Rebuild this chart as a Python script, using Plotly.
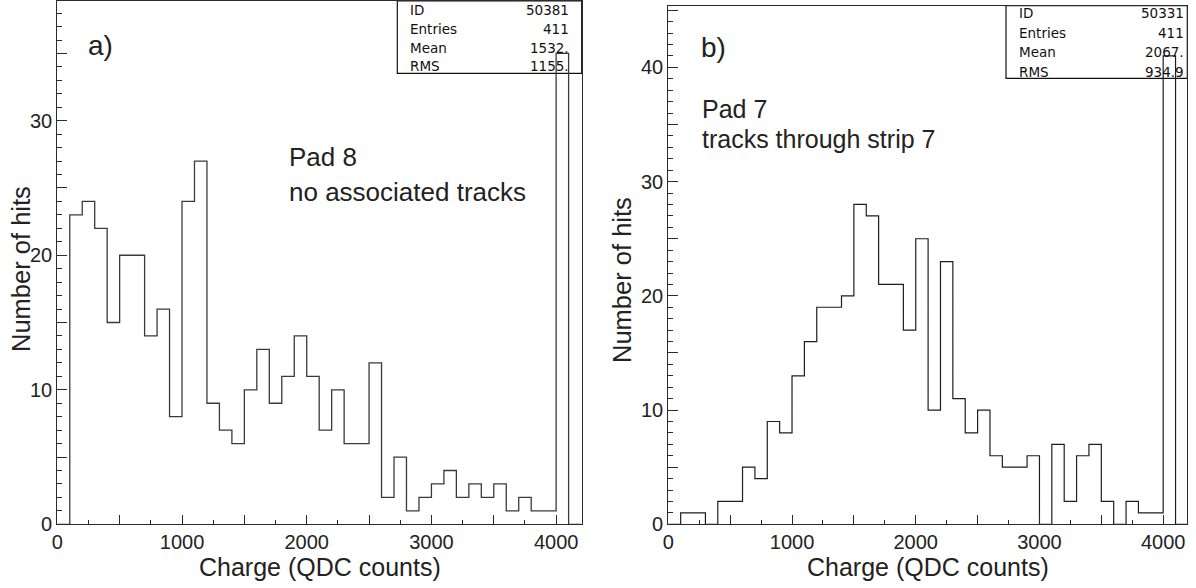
import plotly.graph_objects as go

# ---------------- data ----------------
BIN_WIDTH = 100  # QDC counts per bin
left_counts = [0, 23, 24, 22, 15, 20, 20, 14, 16, 8,
               24, 27, 9, 7, 6, 10, 13, 9, 11, 14,
               11, 7, 10, 6, 6, 12, 2, 5, 1, 2,
               3, 4, 2, 3, 2, 3, 1, 2, 1, 1,
               35, 0]
right_counts = [0, 1, 1, 0, 2, 2, 5, 4, 9, 8,
                13, 16, 19, 19, 20, 28, 27, 21, 21, 17,
                25, 10, 23, 11, 8, 10, 6, 5, 5, 6,
                0, 7, 2, 6, 7, 2, 0, 2, 1, 1,
                41, 0]
stat_labels = ["ID", "Entries", "Mean", "RMS"]
left_stats = ["50381", "411", "1532.", "1155."]
right_stats = ["50331", "411", "2067.", "934.9"]
left_note = ["Pad 8", "no associated tracks"]
right_note = ["Pad 7", "tracks through strip 7"]
x_title = "Charge (QDC counts)"
y_title = "Number of hits"

W, H = 1196, 588
FONT = "Liberation Sans, Arial, Helvetica, sans-serif"
LINE = "#2b2b2b"


def px_x(x):
    return x / W


def px_y(y):
    return 1 - y / H


def step_xy(counts):
    edges = [i * BIN_WIDTH for i in range(len(counts) + 1)]
    xs = [edges[0]] + edges[:-1] + [edges[-1]]
    ys = [0] + list(counts) + [0]
    return xs, ys


fig = go.Figure()
lx, ly = step_xy(left_counts)
rx, ry = step_xy(right_counts)
fig.add_trace(go.Scatter(x=lx, y=ly, mode="lines", line=dict(shape="hv", color="#3a3a3a", width=1.3),
                         xaxis="x", yaxis="y", showlegend=False, hoverinfo="skip", cliponaxis=False))
fig.add_trace(go.Scatter(x=rx, y=ry, mode="lines", line=dict(shape="hv", color="#1e1e1e", width=1.2),
                         xaxis="x2", yaxis="y2", showlegend=False, hoverinfo="skip", cliponaxis=False))

# panel geometry (window pixels)
L = dict(x0=57.3, x1=581.7, y0=1.0, y1=524.3, xmax=4205, ymax=38.9)
R = dict(x0=668.3, x1=1187.3, y0=5.7, y1=524.3, xmax=4195, ymax=45.4)


def xaxis_cfg(p, anchor):
    vals = list(range(0, 4001, 500))
    return dict(domain=[px_x(p["x0"]), px_x(p["x1"])], range=[0, p["xmax"]], anchor=anchor,
                automargin=False,
                tickmode="array", tickvals=vals,
                ticktext=[str(v) if v % 1000 == 0 else "" for v in vals],
                ticks="inside", ticklen=9, tickwidth=1, tickcolor=LINE,
                minor=dict(dtick=250, tick0=0, ticks="inside", ticklen=4.5, tickcolor=LINE),
                showline=True, mirror=True, linecolor=LINE, linewidth=1.2,
                showgrid=False, zeroline=False,
                tickfont=dict(family=FONT, size=20, color="#222"))


def yaxis_cfg(p, anchor):
    vals = list(range(0, int(p["ymax"]) + 1, 5))
    return dict(domain=[px_y(p["y1"]), px_y(p["y0"])], range=[0, p["ymax"]], anchor=anchor,
                automargin=False,
                tickmode="array", tickvals=vals,
                ticktext=[str(v) if v % 10 == 0 else "" for v in vals],
                ticks="inside", ticklen=10, tickwidth=1, tickcolor=LINE,
                minor=dict(dtick=1, tick0=0, ticks="inside", ticklen=5, tickcolor=LINE),
                showline=True, mirror=True, linecolor=LINE, linewidth=1.2,
                showgrid=False, zeroline=False,
                tickfont=dict(family=FONT, size=20, color="#222"))


annotations = []
shapes = []


def add_panel(p, xref, yref, stats, note, label, label_xy, note_x, note_ys, note_size,
              box, rows_y, lab_x, val_x, ytitle_xy):
    xd, yd = xref + " domain", yref + " domain"
    # stats box
    shapes.append(dict(type="rect", xref=xd, yref=yd, x0=box[0], x1=1, y0=box[1], y1=1,
                       line=dict(color="#111", width=1.2), fillcolor="rgba(0,0,0,0)", layer="below"))
    for lab, val, yy in zip(stat_labels, stats, rows_y):
        annotations.append(dict(xref=xd, yref=yd, x=lab_x, y=yy, text=lab, showarrow=False,
                                xanchor="left", yanchor="middle",
                                font=dict(family="DejaVu Sans", size=13.5, color="#111")))
        annotations.append(dict(xref=xd, yref=yd, x=val_x, y=yy, text=val, showarrow=False,
                                xanchor="right", yanchor="middle",
                                font=dict(family="DejaVu Sans", size=13.5, color="#111")))
    # panel label
    annotations.append(dict(xref="paper", yref="paper", x=px_x(label_xy[0]), y=px_y(label_xy[1]),
                            text=label, showarrow=False, xanchor="center", yanchor="middle",
                            font=dict(family=FONT, size=28, color="#222")))
    for t, yy in zip(note, note_ys):
        annotations.append(dict(xref="paper", yref="paper", x=px_x(note_x), y=px_y(yy),
                                text=t, showarrow=False, xanchor="left", yanchor="middle",
                                font=dict(family=FONT, size=note_size, color="#222")))
    # axis titles
    annotations.append(dict(xref="paper", yref="paper", x=px_x((p["x0"] + p["x1"]) / 2), y=px_y(567),
                            text=x_title, showarrow=False, xanchor="center", yanchor="middle",
                            font=dict(family=FONT, size=25, color="#222")))
    annotations.append(dict(xref="paper", yref="paper", x=px_x(ytitle_xy[0]), y=px_y(ytitle_xy[1]),
                            text=y_title, showarrow=False, xanchor="center", yanchor="middle",
                            textangle=-90, font=dict(family=FONT, size=25.5, color="#222")))


add_panel(L, "x", "y", left_stats, left_note, "a)", (100, 45), 287, (157.5, 191.5), 26,
          box=((397.3 - L["x0"]) / (L["x1"] - L["x0"]), (L["y1"] - 73.3) / (L["y1"] - L["y0"])),
          rows_y=[(L["y1"] - v) / (L["y1"] - L["y0"]) for v in (10, 29, 47.7, 66)],
          lab_x=(408 - L["x0"]) / (L["x1"] - L["x0"]), val_x=(571 - L["x0"]) / (L["x1"] - L["x0"]),
          ytitle_xy=(21, 269))
add_panel(R, "x2", "y2", right_stats, right_note, "b)", (713, 47), 700, (109, 139), 25,
          box=((1006 - R["x0"]) / (R["x1"] - R["x0"]), (R["y1"] - 78.3) / (R["y1"] - R["y0"])),
          rows_y=[(R["y1"] - v) / (R["y1"] - R["y0"]) for v in (13.3, 33.3, 52.3, 71.7)],
          lab_x=(1016.7 - R["x0"]) / (R["x1"] - R["x0"]), val_x=(1186 - R["x0"]) / (R["x1"] - R["x0"]),
          ytitle_xy=(622, 280))

fig.update_layout(
    width=W, height=H, margin=dict(l=0, r=0, t=0, b=0, pad=0, autoexpand=False),
    paper_bgcolor="white", plot_bgcolor="white",
    xaxis=xaxis_cfg(L, "y"), yaxis=yaxis_cfg(L, "x"),
    xaxis2=xaxis_cfg(R, "y2"), yaxis2=yaxis_cfg(R, "x2"),
    annotations=annotations, shapes=shapes, showlegend=False,
)

# remove the default 8px page margin so the figure fills the window exactly
fig.write_html("out.html", config={"displayModeBar": False},
               post_script="document.body.style.margin='0px';document.body.style.overflow='hidden';")
